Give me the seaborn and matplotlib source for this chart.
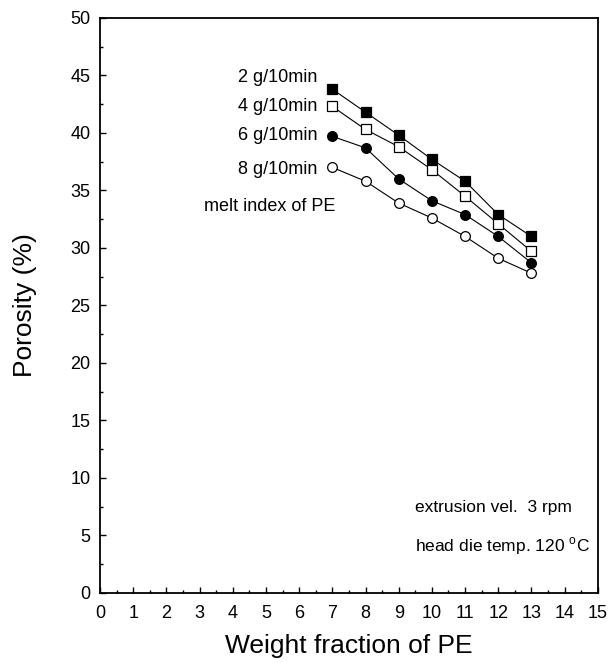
import matplotlib
matplotlib.use("Agg")
import matplotlib.pyplot as plt
import seaborn as sns
import pandas as pd
from matplotlib.ticker import MultipleLocator

sns.set_theme(style="white")
plt.rcParams['font.family'] = ['Liberation Sans', 'DejaVu Sans']
plt.rcParams['text.color'] = 'black'
plt.rcParams['axes.labelcolor'] = 'black'
plt.rcParams['xtick.color'] = 'black'
plt.rcParams['ytick.color'] = 'black'

weight_fraction = [7, 8, 9, 10, 11, 12, 13]
por_2 = [43.8, 41.8, 39.8, 37.7, 35.8, 32.9, 31.0]
por_4 = [42.3, 40.3, 38.8, 36.8, 34.5, 32.1, 29.7]
por_6 = [39.7, 38.7, 36.0, 34.1, 32.9, 31.0, 28.7]
por_8 = [37.0, 35.8, 33.9, 32.6, 31.0, 29.1, 27.8]
series_labels = ["2 g/10min", "4 g/10min", "6 g/10min", "8 g/10min"]

rows = []
for lab, vals in zip(series_labels, [por_2, por_4, por_6, por_8]):
    for x, y in zip(weight_fraction, vals):
        rows.append({"wf": x, "por": y, "mi": lab})
df = pd.DataFrame(rows)

fig = plt.figure(figsize=(6.10, 6.63), dpi=100)
ax = fig.add_axes([0.164, 0.1056, 0.816, 0.8674])

styles = {
    "2 g/10min": dict(marker="s", mfc="black"),
    "4 g/10min": dict(marker="s", mfc="white"),
    "6 g/10min": dict(marker="o", mfc="black"),
    "8 g/10min": dict(marker="o", mfc="white"),
}
for lab in series_labels:
    sub = df[df.mi == lab]
    sns.lineplot(data=sub, x="wf", y="por", ax=ax, color="black", lw=0.8,
                 marker=styles[lab]["marker"], markersize=7,
                 markerfacecolor=styles[lab]["mfc"], markeredgecolor="black",
                 markeredgewidth=0.9, legend=False)

ax.set_xlim(0, 15)
ax.set_ylim(0, 50)
ax.xaxis.set_major_locator(MultipleLocator(1))
ax.xaxis.set_minor_locator(MultipleLocator(0.5))
ax.yaxis.set_major_locator(MultipleLocator(5))
ax.yaxis.set_minor_locator(MultipleLocator(2.5))
ax.tick_params(which="both", direction="in", top=False, right=False,
               bottom=True, left=True, colors="black", labelsize=13)
ax.tick_params(which="major", length=4.5, width=1)
ax.tick_params(which="minor", length=2.5, width=1)
ax.tick_params(axis="x", which="both", pad=9)
ax.tick_params(axis="y", which="both", pad=7)
for s in ax.spines.values():
    s.set_color("black")
    s.set_linewidth(1.3)

ax.set_xlabel("Weight fraction of PE", fontsize=19, labelpad=8)
ax.set_ylabel("Porosity (%)", fontsize=19, labelpad=24)

fs = 13
ax.text(6.54, 44.8, series_labels[0], ha="right", va="center", fontsize=fs)
ax.text(6.54, 42.3, series_labels[1], ha="right", va="center", fontsize=fs)
ax.text(6.54, 39.8, series_labels[2], ha="right", va="center", fontsize=fs)
ax.text(6.54, 36.8, series_labels[3], ha="right", va="center", fontsize=fs)
ax.text(7.08, 33.6, "melt index of PE", ha="right", va="center", fontsize=fs)
fs2 = 12.5
ax.text(9.5, 7.4, "extrusion vel.  3 rpm", ha="left", va="center", fontsize=fs2)
ax.text(9.5, 4.1, "head die temp. 120 $^{\\mathregular{o}}$C", ha="left", va="center", fontsize=fs2)

fig.savefig("out.png", dpi=100, facecolor="white")
